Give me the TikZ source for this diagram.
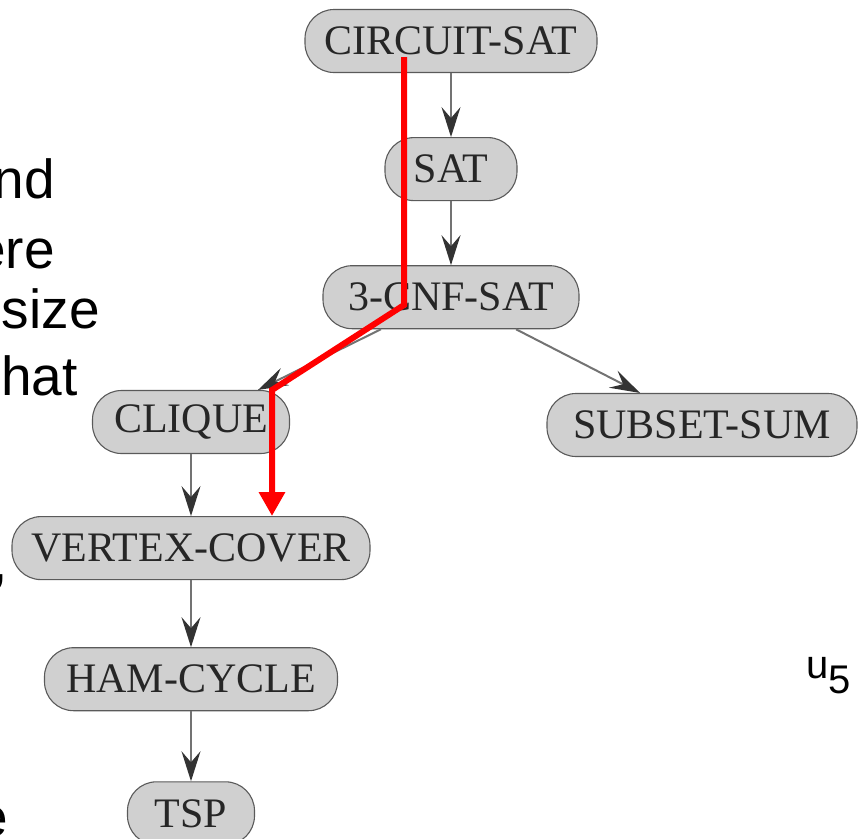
\documentclass[tikz,border=0pt]{standalone}
\usepackage{fontspec}
\setmainfont{Liberation Serif}
\newfontfamily\arialfont{Liberation Sans}
\usetikzlibrary{arrows.meta,positioning}
\definecolor{boxgray}{HTML}{D0D0D0}
\definecolor{edgegray}{HTML}{5A5A5A}
\definecolor{pathred}{HTML}{FF0000}

\begin{document}
\begin{tikzpicture}[
    x=1pt, y=-1pt,
    problem/.style={draw=edgegray, fill=boxgray, rounded corners=29pt, minimum height=63pt, inner xsep=6pt, line width=1.1pt, text=black!85, font=\fontsize{42}{42}\selectfont},
    reduce/.style={-{Stealth[length=30pt,width=19pt,inset=11pt,color=black!80]}, draw=black!55, line width=2pt},
    redpath/.style={-{Triangle[length=24pt,width=25pt]}, draw=pathred, line width=6pt, line join=miter},
    fragment/.style={anchor=base east, inner sep=0pt, font=\arialfont\fontsize{55}{55}\selectfont}
]
\useasboundingbox (0,0) rectangle (859,838);
\clip (0,0) rectangle (859,838);

% Problems, top chain
\node[problem, minimum width=292pt] (circ) at (451,41) {CIRCUIT-SAT};
\node[problem, minimum width=132pt, below=64pt of circ] (sat) {SAT};
\node[problem, minimum width=256pt, below=64pt of sat] (cnf) {3-CNF-SAT};

% Problems, two branches
\node[problem, minimum width=197pt] (clique) at (191,422) {CLIQUE};
\node[problem, minimum width=310pt] (subset) at (702,425) {SUBSET-SUM};
\node[problem, minimum width=358pt, below=62pt of clique] (vc) {VERTEX-COVER};
\node[problem, minimum width=293pt, below=67pt of vc] (ham) {HAM-CYCLE};
\node[problem, minimum width=127pt, below=70pt of ham] (tsp) {TSP};

% Reductions
\draw[reduce] (circ) -- (sat);
\draw[reduce] (sat) -- (cnf);
\draw[reduce] ([xshift=-70pt]cnf.south) -- ([xshift=67pt]clique.north);
\draw[reduce] ([xshift=65pt]cnf.south) -- ([xshift=-62pt]subset.north);
\draw[reduce] (clique) -- (clique.south |- vc.north);
\draw[reduce] (vc.south -| ham.north) -- (ham);
\draw[reduce] (ham) -- (tsp);

% Highlighted route
\coordinate (r1) at (404,57);
\coordinate (r2) at (404,305);
\coordinate (r3) at (272,390);
\draw[redpath] (r1) -- (r2) -- (r3) -- (r3 |- vc.north);

% Cut-off text at the left edge
\node[fragment] (t1) at (55,198) {nd};
\node[fragment] (t2) at (55,268) {ere};
\node[fragment] (t3) at (100,328) {size};
\node[fragment] (t4) at (78,395) {hat};
\node[fragment] (t5) at (8,580) {,};
\node[fragment] (t6) at (8,836) {e};

% Label at the right edge
\node[anchor=base west, inner sep=0pt, font=\arialfont\fontsize{40}{40}\selectfont] (u5) at (806,678) {u\raisebox{-15pt}{5}};

\end{tikzpicture}
\end{document}
